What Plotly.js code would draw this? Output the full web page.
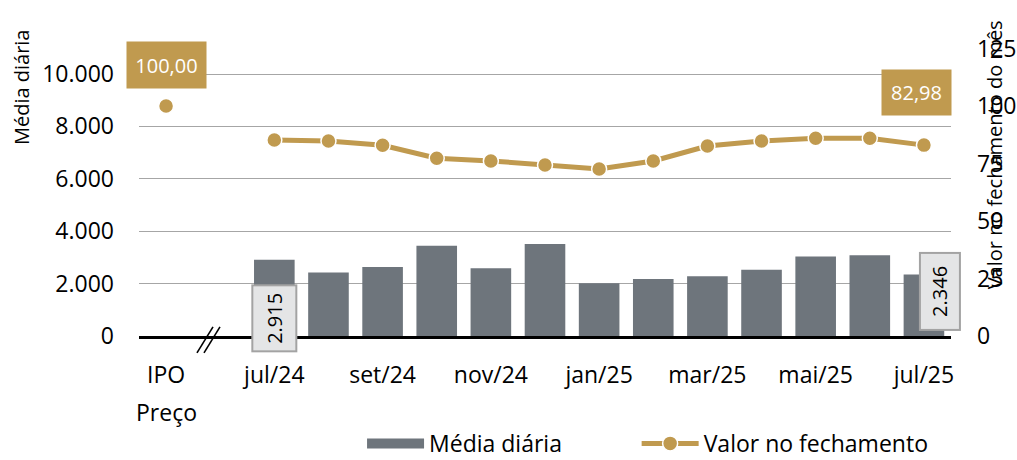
<!DOCTYPE html>
<html>
<head>
<meta charset="utf-8">
<script src="https://cdn.plot.ly/plotly-3.0.1.min.js"></script>
<style>html,body{margin:0;padding:0;background:#fff;}#chart{width:1017px;height:460px;}</style>
</head>
<body>
<div id="chart"></div>
<script>
// ---- data ----
const positions = [0, 1, 2, 3, 4, 5, 6, 7, 8, 9, 10, 11, 12, 13, 14];
const categories = ['IPO', '', 'jul/24', 'ago/24', 'set/24', 'out/24', 'nov/24', 'dez/24', 'jan/25', 'fev/25', 'mar/25', 'abr/25', 'mai/25', 'jun/25', 'jul/25'];
const mediaDiaria = [null, null, 2915, 2420, 2630, 3440, 2590, 3510, 2010, 2180, 2280, 2530, 3030, 3080, 2346];
const valorFechamento = [100.00, null, 85.2, 84.8, 82.9, 77.3, 76.1, 74.3, 72.6, 76.1, 82.6, 84.8, 86.0, 86.0, 82.98];
const tickPositions = [0, 2, 4, 6, 8, 10, 12, 14];
const tickLabels = ['IPO', 'jul/24', 'set/24', 'nov/24', 'jan/25', 'mar/25', 'mai/25', 'jul/25'];
const leftTicks = [0, 2000, 4000, 6000, 8000, 10000];
const rightTicks = [0, 25, 50, 75, 100, 125];
const seriesNames = ['Média diária', 'Valor no fechamento'];
const axisTitles = ['Média diária', 'Valor no fechamento do mês'];
const extraLabel = 'Preço';

// ---- styles ----
const GRAY = '#6e757c';
const GOLD = '#c09a4f';
const FONT = 'Open Sans, Noto Sans, sans-serif';

function fmtThousands(v) { return v.toString().replace(/\B(?=(\d{3})+(?!\d))/g, '.'); }
function fmtDec(v) { return v.toFixed(2).replace('.', ','); }

const traces = [
  {
    type: 'bar', x: positions, y: mediaDiaria, name: seriesNames[0],
    marker: {color: GRAY}, showlegend: false, hoverinfo: 'skip', yaxis: 'y'
  },
  {
    type: 'scatter', mode: 'lines', x: [null], y: [null], name: seriesNames[0],
    line: {color: GRAY, width: 14}, showlegend: true, hoverinfo: 'skip', legend: 'legend'
  },
  {
    type: 'scatter', mode: 'lines+markers', x: positions, y: valorFechamento, name: seriesNames[1],
    yaxis: 'y2', connectgaps: false,
    line: {color: GOLD, width: 5},
    marker: {color: GOLD, size: 15, line: {color: '#ffffff', width: 1.5}},
    hoverinfo: 'skip', legend: 'legend2'
  }
];

const firstIdx = 0, lastIdx = positions.length - 1;
const firstBarIdx = mediaDiaria.findIndex(v => v !== null);

const annotations = [
  // axis titles
  {text: axisTitles[0], xref: 'paper', yref: 'paper', x: -0.144, y: 0.793, showarrow: false,
   textangle: -90, font: {size: 20, color: '#000'}, xanchor: 'center', yanchor: 'middle'},
  {text: axisTitles[1], xref: 'paper', yref: 'paper', x: 1.054, y: 0.578, showarrow: false,
   textangle: -90, font: {size: 20, color: '#000'}, xanchor: 'center', yanchor: 'middle'},
  // "Preço" under IPO
  {text: extraLabel, xref: 'x', yref: 'paper', x: positions[firstIdx], y: -0.242, showarrow: false,
   font: {size: 23, color: '#000'}, xanchor: 'center', yanchor: 'middle'},
  // gold value boxes
  {text: fmtDec(valorFechamento[firstIdx]), xref: 'x', yref: 'y2', x: positions[firstIdx], y: valorFechamento[firstIdx],
   yshift: 41, showarrow: false, bgcolor: GOLD, font: {size: 20, color: '#ffffff'},
   width: 79, height: 46, borderpad: 0, xanchor: 'center', yanchor: 'middle'},
  {text: fmtDec(valorFechamento[lastIdx]), xref: 'x', yref: 'y2', x: positions[lastIdx], y: valorFechamento[lastIdx],
   xshift: -7, yshift: 53, showarrow: false, bgcolor: GOLD, font: {size: 20, color: '#ffffff'},
   width: 69, height: 45, borderpad: 0, xanchor: 'center', yanchor: 'middle'},
  // grey bar label boxes
  {text: fmtThousands(mediaDiaria[firstBarIdx]), xref: 'x', yref: 'y', x: positions[firstBarIdx], y: 0,
   yshift: 18, showarrow: false, textangle: -90, bgcolor: '#e4e5e6', bordercolor: '#a3a3a3', borderwidth: 2,
   font: {size: 20, color: '#000'}, width: 64, height: 42, borderpad: 0, xanchor: 'center', yanchor: 'middle'},
  {text: fmtThousands(mediaDiaria[lastIdx]), xref: 'x', yref: 'y', x: positions[lastIdx], y: 0,
   xshift: 16, yshift: 45, showarrow: false, textangle: -90, bgcolor: '#e4e5e6', bordercolor: '#a3a3a3', borderwidth: 2,
   font: {size: 20, color: '#000'}, width: 75, height: 38, borderpad: 0, xanchor: 'center', yanchor: 'middle'}
];

const shapes = [
  {type: 'line', xref: 'x', yref: 'paper', x0: 0.571, y0: -0.054, x1: 0.867, y1: 0.029, line: {color: '#000', width: 1.6}},
  {type: 'line', xref: 'x', yref: 'paper', x0: 0.701, y0: -0.054, x1: 0.996, y1: 0.029, line: {color: '#000', width: 1.6}}
];

const legendBase = {orientation: 'h', xref: 'container', yref: 'container', xanchor: 'left', y: 0.036, yanchor: 'middle',
                    font: {size: 23, color: '#000'}, itemwidth: 57, bgcolor: 'rgba(0,0,0,0)'};

const layout = {
  width: 1017, height: 460,
  margin: {l: 139, r: 66, t: 22, b: 124, pad: 0},
  paper_bgcolor: '#ffffff', plot_bgcolor: '#ffffff',
  separators: ',.',
  font: {family: FONT, size: 23, color: '#000'},
  bargap: 0.25,
  showlegend: true,
  legend: Object.assign({}, legendBase, {x: 0.356}),
  legend2: Object.assign({}, legendBase, {x: 0.626}),
  xaxis: {
    range: [-0.5, 14.5], tickmode: 'array', tickvals: tickPositions, ticktext: tickLabels,
    showgrid: false, zeroline: false, showline: true, linecolor: '#000', linewidth: 3,
    ticks: '', ticklabelstandoff: 16, tickfont: {size: 23, color: '#000'}, fixedrange: true
  },
  yaxis: {
    range: [0, 11985], tickmode: 'array', tickvals: leftTicks, ticktext: leftTicks.map(fmtThousands),
    showgrid: true, gridcolor: '#a6a6a6', gridwidth: 1, zeroline: false, showline: false,
    ticks: '', ticklabelstandoff: 24, tickfont: {size: 23, color: '#000'}, fixedrange: true
  },
  yaxis2: {
    overlaying: 'y', side: 'right', range: [0, 136.5], tickmode: 'array', tickvals: rightTicks,
    ticktext: rightTicks.map(String),
    showgrid: false, zeroline: false, showline: false,
    ticks: '', ticklabelstandoff: 25, tickfont: {size: 23, color: '#000'}, fixedrange: true
  },
  annotations: annotations,
  shapes: shapes
};

Plotly.newPlot('chart', traces, layout, {displayModeBar: false, staticPlot: true});
</script>
</body>
</html>
